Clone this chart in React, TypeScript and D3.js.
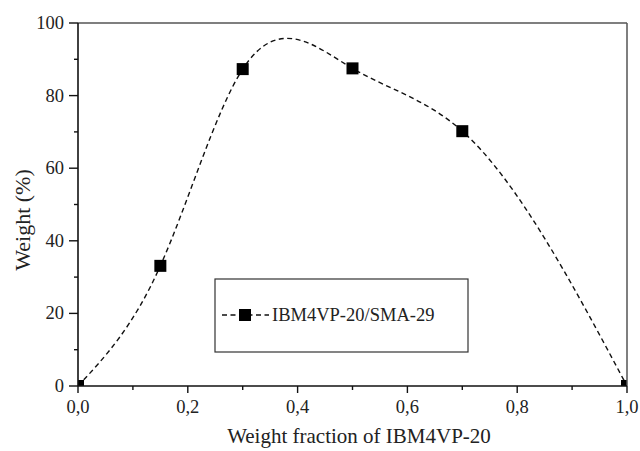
import React from "react";
import * as d3 from "d3";

// Blend composition vs. weight percentage
const fractions = [0.0, 0.15, 0.3, 0.5, 0.7, 1.0];
const weights = [0, 33.1, 87.3, 87.5, 70.2, 0];
const xTicks = [0, 0.2, 0.4, 0.6, 0.8, 1.0];
const xTickLabels = ["0,0", "0,2", "0,4", "0,6", "0,8", "1,0"];
const yTicks = [0, 20, 40, 60, 80, 100];
const seriesName = "IBM4VP-20/SMA-29";
const xTitle = "Weight fraction of IBM4VP-20";
const yTitle = "Weight (%)";

const W = 640;
const H = 451;
const m = { left: 78, right: 13, top: 23, bottom: 65 };
const FONT = "'Liberation Serif', 'Times New Roman', serif";

// Natural cubic spline in x (knots strictly increasing), emitted as Bezier segments.
function naturalSplineX(context: any) {
  let xs: number[] = [];
  let ys: number[] = [];
  return {
    lineStart() {
      xs = [];
      ys = [];
    },
    lineEnd() {
      const n = xs.length;
      if (n === 0) return;
      context.moveTo(xs[0], ys[0]);
      if (n === 1) return;
      const h = d3.range(n - 1).map((i) => xs[i + 1] - xs[i]);
      const d = d3.range(n - 1).map((i) => (ys[i + 1] - ys[i]) / h[i]);
      // second derivatives, M[0] = M[n-1] = 0, tridiagonal solve
      const M = new Array(n).fill(0);
      if (n > 2) {
        const a: number[] = [], b: number[] = [], c: number[] = [], r: number[] = [];
        for (let i = 1; i < n - 1; i++) {
          a.push(h[i - 1]);
          b.push(2 * (h[i - 1] + h[i]));
          c.push(h[i]);
          r.push(6 * (d[i] - d[i - 1]));
        }
        const k = b.length;
        for (let i = 1; i < k; i++) {
          const w = a[i] / b[i - 1];
          b[i] -= w * c[i - 1];
          r[i] -= w * r[i - 1];
        }
        const sol = new Array(k).fill(0);
        sol[k - 1] = r[k - 1] / b[k - 1];
        for (let i = k - 2; i >= 0; i--) sol[i] = (r[i] - c[i] * sol[i + 1]) / b[i];
        for (let i = 0; i < k; i++) M[i + 1] = sol[i];
      }
      for (let i = 0; i < n - 1; i++) {
        const s0 = d[i] - (h[i] * (2 * M[i] + M[i + 1])) / 6;
        const s1 = d[i] + (h[i] * (M[i] + 2 * M[i + 1])) / 6;
        const t = h[i] / 3;
        context.bezierCurveTo(
          xs[i] + t, ys[i] + t * s0,
          xs[i + 1] - t, ys[i + 1] - t * s1,
          xs[i + 1], ys[i + 1]
        );
      }
    },
    areaStart() {},
    areaEnd() {},
    point(x: number, y: number) {
      xs.push(+x);
      ys.push(+y);
    },
  };
}

export default function App() {
  const x = d3.scaleLinear().domain([0, 1]).range([m.left, W - m.right]);
  const y = d3.scaleLinear().domain([0, 100]).range([H - m.bottom, m.top]);
  const pts = fractions.map((f, i) => [x(f), y(weights[i])] as [number, number]);
  const path = d3.line().curve(naturalSplineX as any)(pts) || "";
  const x0 = x(0), x1 = x(1), y0 = y(0), y1 = y(100);
  const minorX = d3.range(0.1, 1, 0.2);
  const minorY = d3.range(10, 100, 20);
  const ms = 12;
  const lg = { x: 215, y: 279, w: 253, h: 73 };
  const ly = lg.y + 36;

  return (
    <svg width={W} height={H} style={{ position: "absolute", left: 0, top: 0 }}>
      <defs>
        <clipPath id="plot">
          <rect x={x0} y={y1} width={x1 - x0} height={y0 - y1} />
        </clipPath>
      </defs>
      <rect width={W} height={H} fill="#fff" />
      <path d={path} fill="none" stroke="#111" strokeWidth={1.4} strokeDasharray="5,3.5" clipPath="url(#plot)" />
      <g clipPath="url(#plot)">
        {pts.map((p, i) => (
          <rect key={i} x={p[0] - ms / 2} y={p[1] - ms / 2} width={ms} height={ms} fill="#000" />
        ))}
      </g>
      {/* frame */}
      <line x1={x0} x2={x1} y1={y1} y2={y1} stroke="#555" strokeWidth={1.5} />
      <line x1={x1} x2={x1} y1={y1} y2={y0} stroke="#555" strokeWidth={1.5} />
      <line x1={x0} x2={x1} y1={y0} y2={y0} stroke="#111" strokeWidth={1.6} />
      <line x1={x0} x2={x0} y1={y1} y2={y0} stroke="#111" strokeWidth={1.6} />
      {/* x ticks */}
      {xTicks.map((t, i) => (
        <g key={"xt" + i}>
          <line x1={x(t)} x2={x(t)} y1={y0} y2={y0 + 7} stroke="#111" strokeWidth={1.4} />
          <text x={x(t)} y={413} textAnchor="middle" fontFamily={FONT} fontSize={18.5} fill="#222">
            {xTickLabels[i]}
          </text>
        </g>
      ))}
      {minorX.map((t, i) => (
        <line key={"xm" + i} x1={x(t)} x2={x(t)} y1={y0} y2={y0 + 4} stroke="#111" strokeWidth={1.4} />
      ))}
      {/* y ticks */}
      {yTicks.map((t, i) => (
        <g key={"yt" + i}>
          <line x1={x0 - 9} x2={x0} y1={y(t)} y2={y(t)} stroke="#111" strokeWidth={1.4} />
          <text x={64} y={y(t) + 6} textAnchor="end" fontFamily={FONT} fontSize={18.5} fill="#222">
            {t}
          </text>
        </g>
      ))}
      {minorY.map((t, i) => (
        <line key={"ym" + i} x1={x0 - 4} x2={x0} y1={y(t)} y2={y(t)} stroke="#111" strokeWidth={1.4} />
      ))}
      {/* titles */}
      <text x={359} y={443} textAnchor="middle" fontFamily={FONT} fontSize={21} fill="#222">
        {xTitle}
      </text>
      <text
        transform={`translate(30,220) rotate(-90)`}
        textAnchor="middle"
        fontFamily={FONT}
        fontSize={22}
        fill="#222"
      >
        {yTitle}
      </text>
      {/* legend */}
      <rect x={lg.x} y={lg.y} width={lg.w} height={lg.h} fill="#fff" stroke="#333" strokeWidth={1.2} />
      <line x1={lg.x + 7} x2={lg.x + 54} y1={ly} y2={ly} stroke="#111" strokeWidth={1.4} strokeDasharray="5,3.5" />
      <rect x={lg.x + 30 - 6} y={ly - 6} width={12} height={12} fill="#000" />
      <text x={lg.x + 57} y={ly + 6} fontFamily={FONT} fontSize={18.5} fill="#222">
        {seriesName}
      </text>
    </svg>
  );
}
